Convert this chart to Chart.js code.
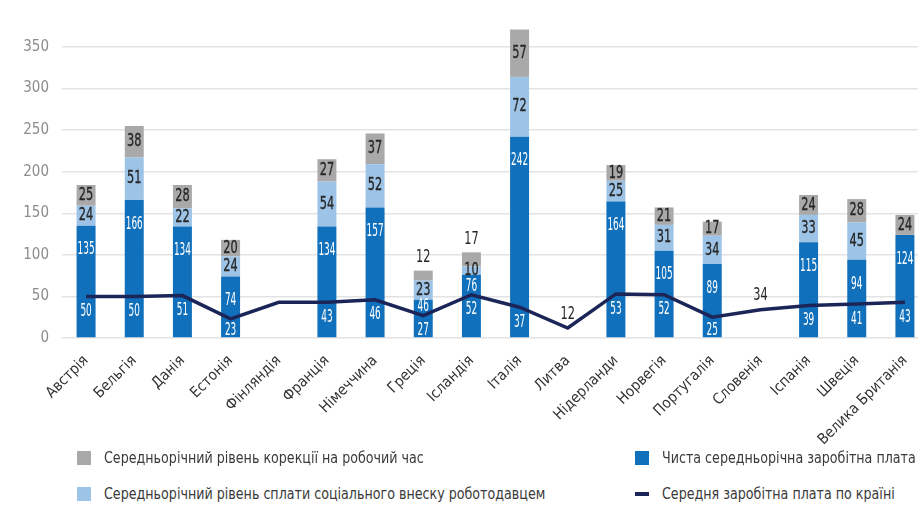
<!DOCTYPE html>
<html>
<head>
<meta charset="utf-8">
<script src="https://cdn.jsdelivr.net/npm/chart.js@4.4.1/dist/chart.umd.min.js"></script>
<style>
    html, body { margin: 0; padding: 0; background: #fff; overflow: hidden; }
    #wrap { position: relative; width: 932px; height: 505px; }
    #chart { position: absolute; left: 0; top: 0; }
    .legend-item {
        position: absolute;
        display: flex;
        align-items: center;
        white-space: nowrap;
        font-family: 'Liberation Sans Narrow', 'DejaVu Sans Condensed', sans-serif;
        font-size: 15px;
        color: #3a3a3a;
    }
    .legend-item .txt { display: inline-block; transform: scaleX(0.94); transform-origin: left center; }
    .swatch { width: 14px; height: 14px; margin-right: 13px; }
    .swatch.line { height: 4px; }
</style>
</head>
<body>
<div id="wrap">
    <canvas id="chart" width="932" height="450"></canvas>
    <div id="legend"></div>
</div>
<script>
// Chart data
const countries = ['Австрія', 'Бельгія', 'Данія', 'Естонія', 'Фінляндія', 'Франція', 'Німеччина', 'Греція', 'Ісландія',
    'Італія', 'Литва', 'Нідерланди', 'Норвегія', 'Португалія', 'Словенія', 'Іспанія', 'Швеція', 'Велика Британія'];
const netPay = [135, 166, 134, 74, null, 134, 157, 46, 76, 242, null, 164, 105, 89, null, 115, 94, 124];
const socialContrib = [24, 51, 22, 24, null, 54, 52, 23, 10, 72, null, 25, 31, 34, null, 33, 45, null];
const hoursCorrection = [25, 38, 28, 20, null, 27, 37, 12, 17, 57, null, 19, 21, 17, null, 24, 28, 24];
const avgWage = [50, 50, 51, 23, 43, 43, 46, 27, 52, 37, 12, 53, 52, 25, 34, 39, 41, 43];
const avgWageNoLabel = ['Фінляндія'];
const yTicks = [0, 50, 100, 150, 200, 250, 300, 350];

const netName = 'Чиста середньорічна заробітна плата';
const socialName = 'Середньорічний рівень сплати соціального внеску роботодавцем';
const correctionName = 'Середньорічний рівень корекції на робочий час';
const avgName = 'Середня заробітна плата по країні';

const colors = {
    net: '#1170bb',
    social: '#9dc3e6',
    correction: '#a9a9a9',
    avg: '#1c2557'
};

const narrow = "'Liberation Sans Narrow', 'DejaVu Sans Condensed', sans-serif";

// squeeze the text, the original uses a condensed face
function drawLabel(ctx, text, x, y, color, sx, heavy) {
    ctx.save();
    ctx.fillStyle = color;
    ctx.translate(x, y);
    ctx.scale(sx, 1);
    ctx.fillText(text, 0, 0);
    if (heavy) {
        ctx.strokeStyle = color;
        ctx.lineWidth = 0.3;
        ctx.strokeText(text, 0, 0);
    }
    ctx.restore();
}

// draws the numbers on bars and line
const valueLabels = {
    id: 'valueLabels',
    afterDatasetsDraw(chart) {
        const ctx = chart.ctx;
        ctx.save();
        ctx.font = '18px ' + narrow;
        ctx.textAlign = 'center';
        ctx.textBaseline = 'middle';
        chart.data.datasets.forEach((ds, di) => {
            const meta = chart.getDatasetMeta(di);
            meta.data.forEach((el, i) => {
                const v = ds.data[i];
                if (v == null) return;
                let y, color = '#262626', sx = 0.7, heavy = true;
                if (ds.key === 'avg') {
                    if (avgWageNoLabel.includes(countries[i])) return;
                    if (netPay[i] != null) {
                        y = Math.min(el.y + 15, 330);
                        color = '#fff';
                        sx = 0.55;
                        heavy = false;
                    } else {
                        y = el.y - 14;
                        heavy = false;
                    }
                } else if (ds.key === 'net') {
                    const h = el.base - el.y;
                    let off = 24;
                    if (h < 50) off = 7;
                    else if (socialContrib[i] != null && socialContrib[i] < 15) off = 12;
                    y = el.y + off;
                    color = '#fff';
                    sx = 0.55;
                    heavy = false;
                } else if (ds.key === 'social') {
                    y = (el.y + el.base) / 2;
                } else {
                    const small = v < 15 || (socialContrib[i] != null && socialContrib[i] < 15);
                    y = small ? el.y - 13 : (el.y + el.base) / 2;
                    if (small) heavy = false;
                }
                drawLabel(ctx, String(v), el.x, y, color, sx, heavy);
            });
        });
        ctx.restore();
    }
};

const barOpts = { barPercentage: 0.394, categoryPercentage: 1, order: 1 };

const chart = new Chart(document.getElementById('chart'), {
    type: 'bar',
    data: {
        labels: countries,
        datasets: [
            { key: 'net', label: netName, data: netPay, backgroundColor: colors.net, ...barOpts },
            { key: 'social', label: socialName, data: socialContrib, backgroundColor: colors.social, ...barOpts },
            { key: 'correction', label: correctionName, data: hoursCorrection, backgroundColor: colors.correction, ...barOpts },
            {
                key: 'avg', type: 'line', label: avgName, data: avgWage, stack: 'avg', order: 0,
                borderColor: colors.avg, borderWidth: 3.5, pointRadius: 0, tension: 0, fill: false
            }
        ]
    },
    options: {
        responsive: false,
        animation: false,
        layout: { padding: { top: 3, right: 3, left: 0, bottom: 0 } },
        plugins: { legend: { display: false }, tooltip: { enabled: false } },
        scales: {
            x: {
                stacked: true,
                grid: { display: false },
                border: { display: false },
                ticks: {
                    color: '#333',
                    font: { family: narrow, size: 15 },
                    minRotation: 45,
                    maxRotation: 45,
                    autoSkip: false,
                    padding: 6
                },
                afterFit(scale) { scale.height = 112; }
            },
            y: {
                stacked: true,
                min: 0,
                max: 380,
                afterBuildTicks(axis) {
                    axis.ticks = yTicks.map(v => ({ value: v }));
                },
                ticks: { color: '#8c8c8c', font: { family: narrow, size: 15 }, padding: 13 },
                grid: { color: '#e3e3e3', lineWidth: 1.5, drawTicks: false },
                border: { display: false },
                afterFit(scale) { scale.width = 62; }
            }
        }
    },
    plugins: [valueLabels]
});

// legend laid out in two columns like the original
const legendItems = [
    { name: correctionName, color: colors.correction, left: 77, top: 451, line: false },
    { name: netName, color: colors.net, left: 635, top: 451, line: false },
    { name: socialName, color: colors.social, left: 77, top: 487, line: false },
    { name: avgName, color: colors.avg, left: 635, top: 487, line: true }
];
const legend = document.getElementById('legend');
legendItems.forEach(item => {
    const div = document.createElement('div');
    div.className = 'legend-item';
    div.style.left = item.left + 'px';
    div.style.top = item.top + 'px';
    div.style.height = '14px';
    div.innerHTML = `<span class="swatch${item.line ? ' line' : ''}" style="background:${item.color}"></span><span class="txt">${item.name}</span>`;
    legend.appendChild(div);
});
</script>
</body>
</html>
